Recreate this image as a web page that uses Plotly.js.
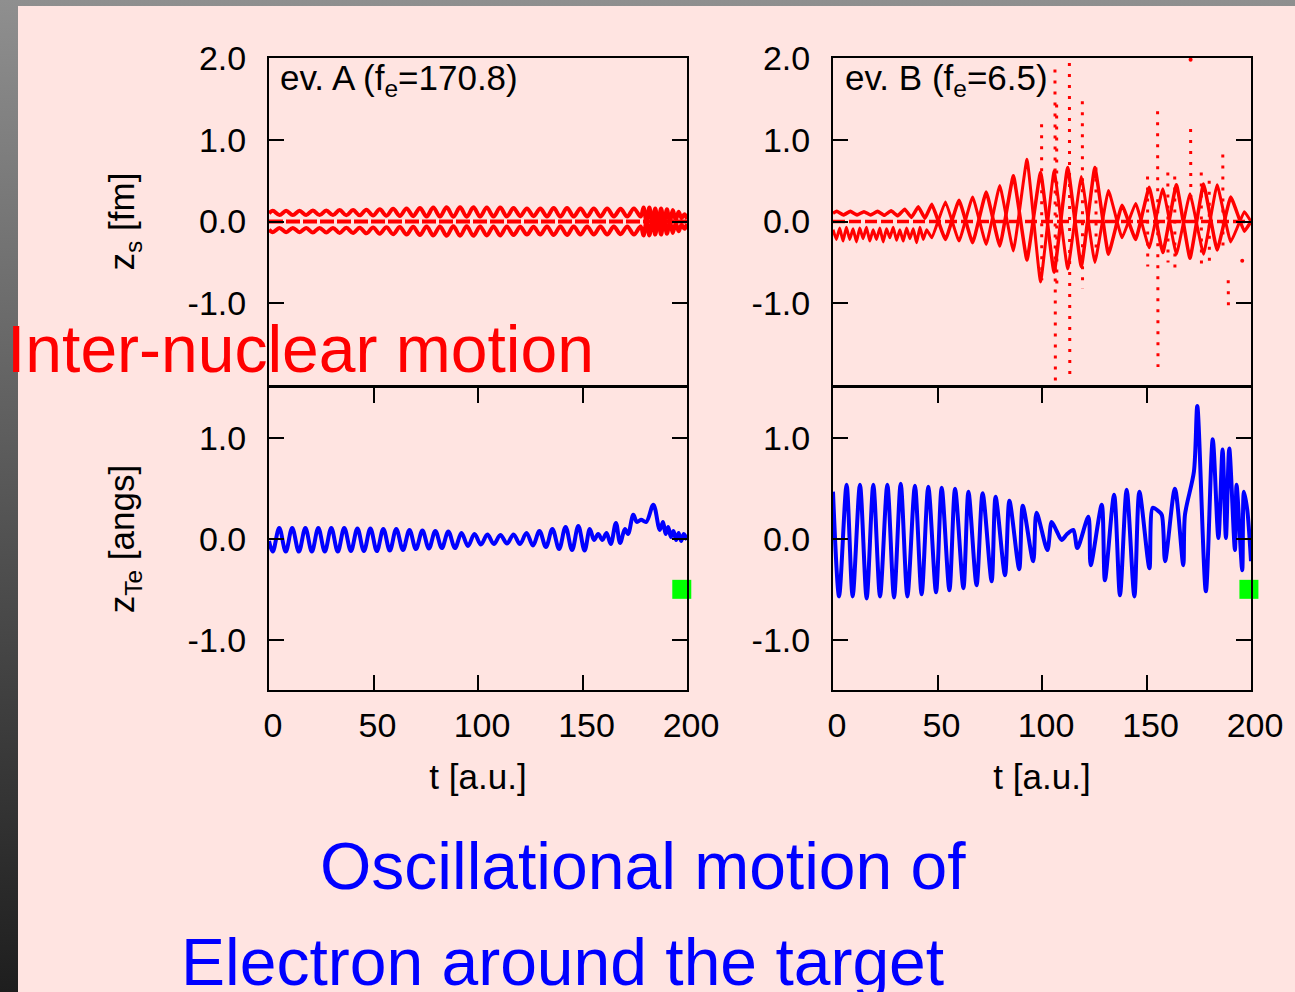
<!DOCTYPE html>
<html>
<head>
<meta charset="utf-8">
<script src="https://cdn.plot.ly/plotly-3.0.1.min.js"></script>
<style>
  html, body { margin: 0; padding: 0; }
  #chart {
    width: 1295px; height: 992px;
    background:
      linear-gradient(#FFE4E1, #FFE4E1) 18px 6px / 1277px 986px no-repeat,
      linear-gradient(to bottom, #8f8f8f, #1e1e1e);
  }
</style>
</head>
<body>
<div id="chart"></div>
<script>
// ---------- ev. A, inter-nuclear motion z_s [fm] ----------
const tA = [0, 1.8, 5.0, 8.2, 11.4, 14.6, 17.8, 21.0, 24.2, 27.4, 30.6, 33.8, 37.0, 40.2, 43.4, 46.6, 49.8, 53.0, 56.2, 59.4, 62.6, 65.8, 69.0, 72.2, 75.4, 78.6, 81.8, 85.0, 88.2, 91.4, 94.6, 97.8, 101.0, 104.2, 107.4, 110.6, 113.8, 117.0, 120.2, 123.4, 126.6, 129.8, 133.0, 136.2, 139.4, 142.6, 145.8, 149.0, 152.2, 155.4, 158.6, 161.8, 165.0, 168.2, 171.4, 174.6, 177.8, 179.2, 180.6, 182.0, 183.4, 184.8, 186.2, 187.6, 189.0, 190.4, 191.8, 193.2, 194.6, 196.0, 197.4, 198.8, 200.0];
const zA_up = [0.10, 0.13, 0.08, 0.13, 0.08, 0.13, 0.08, 0.135, 0.078, 0.135, 0.078, 0.14, 0.076, 0.14, 0.075, 0.145, 0.072, 0.15, 0.07, 0.155, 0.068, 0.16, 0.065, 0.165, 0.062, 0.17, 0.06, 0.175, 0.058, 0.175, 0.058, 0.175, 0.06, 0.17, 0.06, 0.17, 0.062, 0.165, 0.065, 0.16, 0.065, 0.16, 0.062, 0.165, 0.06, 0.165, 0.06, 0.16, 0.062, 0.16, 0.062, 0.16, 0.062, 0.155, 0.06, 0.16, 0.06, 0.17, 0.0, 0.17, -0.02, 0.16, -0.03, 0.16, -0.02, 0.15, 0.0, 0.14, 0.02, 0.12, 0.04, 0.09, 0.03];
const zA_low = [-0.10, -0.13, -0.08, -0.13, -0.08, -0.13, -0.08, -0.135, -0.078, -0.135, -0.078, -0.14, -0.076, -0.14, -0.075, -0.145, -0.072, -0.15, -0.07, -0.155, -0.068, -0.16, -0.065, -0.165, -0.062, -0.17, -0.06, -0.175, -0.058, -0.175, -0.058, -0.175, -0.06, -0.17, -0.06, -0.17, -0.062, -0.165, -0.065, -0.16, -0.065, -0.16, -0.062, -0.165, -0.06, -0.165, -0.06, -0.16, -0.062, -0.16, -0.062, -0.16, -0.062, -0.155, -0.06, -0.16, -0.06, -0.17, 0.0, -0.17, 0.02, -0.16, 0.03, -0.16, 0.02, -0.15, 0.0, -0.14, -0.02, -0.12, -0.04, -0.09, -0.03];
const tA_mid = [0, 200];
const zA_mid = [0, 0];

// ---------- ev. B, inter-nuclear motion z_s [fm] ----------
const tB1 = [0, 1.8, 5.0, 8.3, 11.5, 14.8, 18.0, 21.3, 24.5, 27.8, 31.0, 34.3, 37.5, 40.8, 44.0, 47.3, 53.8, 60.3, 66.8, 73.3, 79.8, 86.3, 92.8, 99.3, 105.8, 112.3, 118.8, 125.3, 131.8, 138.3, 144.8, 151.3, 157.8, 164.3, 170.8, 177.3, 183.8, 190.3, 196.8, 200];
const zB1 = [0.10, 0.125, 0.08, 0.125, 0.08, 0.12, 0.08, 0.125, 0.075, 0.13, 0.07, 0.15, 0.05, 0.18, 0.04, 0.21, -0.22, 0.26, -0.26, 0.36, -0.30, 0.56, -0.47, 0.60, -0.62, 0.66, -0.55, 0.66, -0.40, 0.20, -0.22, 0.42, -0.38, 0.45, -0.45, 0.46, -0.35, 0.30, -0.12, 0.0];
const tB2 = [0, 1.6, 3.2, 4.8, 6.4, 8.0, 9.6, 11.2, 12.8, 14.4, 16.0, 17.6, 19.2, 20.8, 22.4, 24.0, 25.6, 27.2, 28.8, 30.4, 32.0, 33.6, 35.2, 36.8, 38.4, 40.0, 41.6, 43.2, 44.8, 47.3, 53.8, 60.3, 66.8, 73.3, 79.8, 86.3, 92.8, 99.3, 105.8, 112.3, 118.8, 125.3, 131.8, 138.3, 144.8, 151.3, 157.8, 164.3, 170.8, 177.3, 183.8, 190.3, 196.8, 200];
const zB2 = [-0.10, -0.22, -0.08, -0.24, -0.07, -0.22, -0.09, -0.25, -0.08, -0.21, -0.07, -0.24, -0.10, -0.22, -0.08, -0.25, -0.09, -0.20, -0.07, -0.23, -0.10, -0.24, -0.08, -0.21, -0.09, -0.26, -0.07, -0.22, -0.10, -0.20, 0.24, -0.24, 0.30, -0.28, 0.44, -0.36, 0.76, -0.74, 0.62, -0.58, 0.55, -0.50, 0.38, -0.20, 0.22, -0.32, 0.40, -0.40, 0.34, -0.40, 0.45, -0.25, 0.12, 0.0];
const tB_mid = [0, 200];
const zB_mid = [0, 0];
const tB_spikes = [99.8, 99.9, null, 106.2, 106.4, null, 107.0, 107.1, null, 113.1, 113.3, null, 119.3, 119.4, null, 125.8, 125.9, null, 150.5, 150.6, null, 155.3, 155.5, null, 160.2, 160.3, null, 163.5, 163.6, null, 171.1, 171.2, null, 176.2, 176.3, null, 180.0, 180.1, null, 186.5, 186.6, null, 189.1, 189.2];
const zB_spikes = [1.19, -0.72, null, 1.86, -1.96, null, 1.43, -0.80, null, 1.94, -1.88, null, 1.47, -0.82, null, 0.66, -0.40, null, 0.55, -0.55, null, 1.35, -1.78, null, 0.60, -0.50, null, 0.55, -0.60, null, 1.13, 0.30, null, 0.60, -0.60, null, 0.50, -0.55, null, 0.82, -0.30, null, -0.72, -1.04];
const tB_dots = [171.1, 195.8];
const zB_dots = [1.98, -0.48];

// ---------- ev. A, electron z_Te [angs] ----------
const tC = [0, 1.8, 4.9, 8.0, 11.1, 14.3, 17.4, 20.5, 23.6, 26.7, 29.8, 32.9, 36.0, 39.2, 42.3, 45.4, 48.5, 51.6, 54.7, 57.8, 60.9, 64.1, 67.2, 70.3, 73.4, 76.5, 79.6, 82.7, 85.8, 89.0, 92.1, 95.2, 98.3, 101.4, 104.5, 107.6, 110.7, 113.9, 117.0, 120.1, 123.2, 126.3, 129.4, 132.5, 135.6, 138.8, 141.9, 145.0, 148.0, 151.0, 153.5, 155.5, 157.5, 159.5, 161.5, 163.5, 166.0, 168.0, 170.3, 171.8, 174.3, 176.0, 178.0, 180.5, 183.9, 187.0, 188.5, 189.8, 191.0, 192.3, 193.5, 194.8, 196.0, 197.2, 198.5, 200];
const zC = [-0.02, -0.125, 0.11, -0.125, 0.11, -0.125, 0.11, -0.125, 0.11, -0.125, 0.11, -0.125, 0.11, -0.12, 0.105, -0.12, 0.105, -0.12, 0.10, -0.115, 0.10, -0.11, 0.09, -0.10, 0.085, -0.095, 0.08, -0.09, 0.075, -0.09, 0.06, -0.07, 0.05, -0.055, 0.045, -0.05, 0.04, -0.045, 0.045, -0.05, 0.06, -0.065, 0.08, -0.08, 0.10, -0.10, 0.12, -0.11, 0.13, -0.115, 0.10, -0.01, 0.05, -0.01, 0.06, -0.05, 0.16, -0.04, 0.10, 0.05, 0.24, 0.17, 0.19, 0.17, 0.34, 0.09, 0.17, 0.05, 0.12, 0.02, 0.08, -0.01, 0.06, -0.02, 0.05, -0.01];

// ---------- ev. B, electron z_Te [angs] ----------
const tD = [0, 2.9, 6.5, 9.4, 12.9, 16.1, 19.3, 22.5, 26.0, 29.2, 32.4, 35.6, 39.2, 42.4, 45.6, 49.3, 52.0, 55.7, 58.4, 62.4, 64.8, 68.7, 71.6, 75.9, 77.8, 82.3, 84.4, 89.1, 90.8, 95.8, 97.4, 102.6, 104.6, 107.0, 109.4, 112.0, 115.0, 116.9, 122.2, 123.3, 128.6, 130.1, 134.5, 137.3, 140.5, 144.2, 146.6, 151.4, 153.0, 155.5, 157.3, 158.9, 163.6, 167.6, 168.4, 172.7, 174.3, 178.4, 181.7, 184.4, 186.4, 188.0, 189.6, 192.3, 193.1, 195.8, 196.6, 198.2, 200];
const zD = [0.47, -0.57, 0.54, -0.57, 0.54, -0.59, 0.54, -0.57, 0.54, -0.58, 0.55, -0.57, 0.53, -0.55, 0.52, -0.53, 0.51, -0.51, 0.50, -0.49, 0.47, -0.46, 0.455, -0.42, 0.42, -0.36, 0.38, -0.30, 0.33, -0.22, 0.26, -0.11, 0.17, 0.08, -0.01, 0.05, 0.09, -0.09, 0.22, -0.26, 0.34, -0.41, 0.44, -0.56, 0.49, -0.57, 0.47, -0.29, 0.31, 0.28, 0.24, -0.22, 0.50, -0.26, 0.24, 0.67, 1.32, -0.52, 0.99, 0.01, 0.89, 0.01, 0.90, -0.11, 0.54, -0.31, 0.47, 0.29, -0.22];

// end-of-run markers
const tEndA = [197.5];
const zEndA = [-0.5];
const tEndB = [199];
const zEndB = [-0.5];

// ticks
const xTickVals = [0, 50, 100, 150, 200];
const xTickText = ['0', '50', '100', '150', '200'];
const yTopTickVals = [-1, 0, 1, 2];
const yTopTickText = ['-1.0', '0.0', '1.0', '2.0'];
const yBotTickVals = [-1, 0, 1];
const yBotTickText = ['-1.0', '0.0', '1.0'];

// ---------- layout geometry (pixels -> paper) ----------
const W = 1295, H = 992;
const px = v => v / W;
const py = v => 1 - v / H;
const domL = [px(269), px(687)], domR = [px(833), px(1251)];
const domT = [py(385), py(58)], domB = [py(690), py(388)];

const FONT = 'Liberation Sans, Arial, Helvetica, sans-serif';
const RED = '#ff0000', BLUE = '#0000ff';

const baseAxis = {
  showline: true, linecolor: '#000', linewidth: 2,
  showgrid: false, zeroline: false,
  tickcolor: '#000', tickwidth: 2, ticklen: 15,
  tickfont: {family: FONT, size: 34, color: '#000'},
  fixedrange: true
};
function xTop(anchor, dom) {
  return Object.assign({}, baseAxis, {anchor: anchor, domain: dom, range: [0, 200],
    ticks: '', showticklabels: false, mirror: true});
}
function xBot(anchor, dom) {
  return Object.assign({}, baseAxis, {anchor: anchor, domain: dom, range: [0, 200],
    ticks: 'inside', mirror: 'ticks', tickmode: 'array', tickvals: xTickVals, ticktext: xTickText,
    ticklabelstandoff: 4, ticklabelshift: 4,
    title: {text: 't [a.u.]', font: {family: FONT, size: 35, color: '#000'}, standoff: 22}});
}
function yAx(anchor, dom, range, vals, txt, title) {
  const a = Object.assign({}, baseAxis, {anchor: anchor, domain: dom, range: range,
    ticks: 'inside', mirror: 'ticks', tickmode: 'array', tickvals: vals, ticktext: txt,
    ticklabelstandoff: 14});
  if (title) a.title = {text: title, font: {family: FONT, size: 35, color: '#000'}, standoff: 42};
  return a;
}

const traces = [
  // top-left
  {x: tA_mid, y: zA_mid, xaxis: 'x', yaxis: 'y', mode: 'lines',
   line: {color: RED, width: 4, dash: '14px,3px'}},
  {x: tA, y: zA_up, xaxis: 'x', yaxis: 'y', mode: 'lines',
   line: {color: RED, width: 4, shape: 'spline', smoothing: 1}},
  {x: tA, y: zA_low, xaxis: 'x', yaxis: 'y', mode: 'lines',
   line: {color: RED, width: 4, shape: 'spline', smoothing: 1}},
  // top-right
  {x: tB_mid, y: zB_mid, xaxis: 'x2', yaxis: 'y2', mode: 'lines',
   line: {color: RED, width: 3.5, dash: '12px,4px'}},
  {x: tB1, y: zB1, xaxis: 'x2', yaxis: 'y2', mode: 'lines',
   line: {color: RED, width: 3.5, shape: 'spline', smoothing: 0.3}},
  {x: tB2, y: zB2, xaxis: 'x2', yaxis: 'y2', mode: 'lines',
   line: {color: RED, width: 3, shape: 'spline', smoothing: 0.3}},
  {x: tB_spikes, y: zB_spikes, xaxis: 'x2', yaxis: 'y2', mode: 'lines', connectgaps: false,
   line: {color: RED, width: 3, dash: '3px,8px'}},
  {x: tB_dots, y: zB_dots, xaxis: 'x2', yaxis: 'y2', mode: 'markers',
   marker: {color: RED, size: 4}},
  // bottom-left
  {x: tC, y: zC, xaxis: 'x3', yaxis: 'y3', mode: 'lines',
   line: {color: BLUE, width: 4, shape: 'spline', smoothing: 1}},
  {x: tEndA, y: zEndA, xaxis: 'x3', yaxis: 'y3', mode: 'markers', cliponaxis: false,
   marker: {symbol: 'square', color: '#00ff00', size: 19, line: {width: 0}}},
  // bottom-right
  {x: tD, y: zD, xaxis: 'x4', yaxis: 'y4', mode: 'lines',
   line: {color: BLUE, width: 4, shape: 'spline', smoothing: 0.8}},
  {x: tEndB, y: zEndB, xaxis: 'x4', yaxis: 'y4', mode: 'markers', cliponaxis: false,
   marker: {symbol: 'square', color: '#00ff00', size: 19, line: {width: 0}}}
];

const layout = {
  width: W, height: H,
  margin: {l: 0, r: 0, t: 0, b: 0, pad: 0},
  paper_bgcolor: 'rgba(0,0,0,0)',
  plot_bgcolor: 'rgba(0,0,0,0)',
  showlegend: false,
  xaxis: xTop('y', domL),
  xaxis2: xTop('y2', domR),
  xaxis3: xBot('y3', domL),
  xaxis4: xBot('y4', domR),
  yaxis: yAx('x', domT, [-2, 2], yTopTickVals, yTopTickText, 'z<sub>s</sub> [fm]'),
  yaxis2: yAx('x2', domT, [-2, 2], yTopTickVals, yTopTickText, null),
  yaxis3: yAx('x3', domB, [-1.5, 1.5], yBotTickVals, yBotTickText, 'z<sub>Te</sub> [angs]'),
  yaxis4: yAx('x4', domB, [-1.5, 1.5], yBotTickVals, yBotTickText, null),
  annotations: [
    {text: 'ev. A (f<sub>e</sub>=170.8)', xref: 'paper', yref: 'paper', x: px(278), y: py(80),
     xanchor: 'left', yanchor: 'middle', showarrow: false, font: {family: FONT, size: 35, color: '#000'}},
    {text: 'ev. B (f<sub>e</sub>=6.5)', xref: 'paper', yref: 'paper', x: px(843), y: py(80),
     xanchor: 'left', yanchor: 'middle', showarrow: false, font: {family: FONT, size: 35, color: '#000'}},
    {text: 'Inter-nuclear motion', xref: 'paper', yref: 'paper', x: px(5), y: py(349),
     xanchor: 'left', yanchor: 'middle', showarrow: false, font: {family: FONT, size: 66, color: RED}},
    {text: 'Oscillational motion of', xref: 'paper', yref: 'paper', x: px(643), y: py(866),
     xanchor: 'center', yanchor: 'middle', showarrow: false, font: {family: FONT, size: 66, color: BLUE}},
    {text: 'Electron around the target', xref: 'paper', yref: 'paper', x: px(179), y: py(962),
     xanchor: 'left', yanchor: 'middle', showarrow: false, font: {family: FONT, size: 66, color: BLUE}}
  ]
};

Plotly.newPlot('chart', traces, layout, {displayModeBar: false, staticPlot: true});
</script>
</body>
</html>
